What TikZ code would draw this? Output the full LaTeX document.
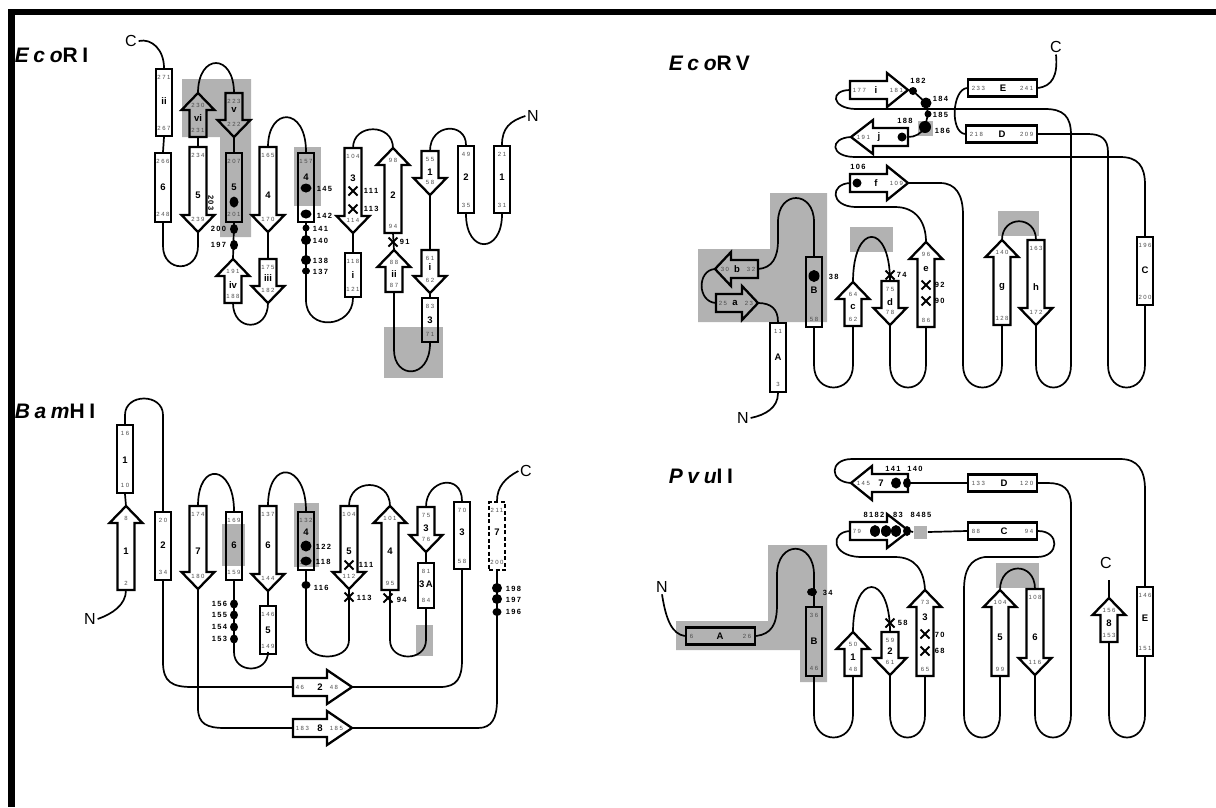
\documentclass[tikz,border=0pt]{standalone}
\usepackage{fontspec}
\setmainfont{Liberation Sans}
\newfontfamily\numfont[LetterSpace=25]{Liberation Sans}
\newfontfamily\labfont[LetterSpace=18]{Liberation Sans}
\newfontfamily\ttlfont[LetterSpace=22]{Liberation Sans}
\usetikzlibrary{shapes.geometric}

% vertical helix: [opt] name, x, y top, y bottom, top no., letter, letter y, bottom no.
\newcommand{\vhelix}[9][]{%
  \node[helix,#1,minimum height={#5-#4}] (#2) at (#3,{(#4+#5)/2}) {};
  \node[snum] (#2-1) at (#3,#4+8) {#6};
  \node[slab] (#2-2) at (#3,#8) {#7};
  \node[snum] (#2-3) at (#3,#5-8) {#9};}
% horizontal helix: name, x left, x right, y, left no., letter, letter x, right no.
\newcommand{\hhelix}[8]{%
  \node[helix,minimum width={#3-#2},minimum height=17] (#1) at ({(#2+#3)/2},#4) {};
  \node[snum,anchor=west] (#1-1) at (#2+3,#4) {#5};
  \node[slab] (#1-2) at (#7,#4) {#6};
  \node[snum,anchor=east] (#1-3) at (#3-3,#4) {#8};}
% strands: name, x, y tip / y top, y tail / y tip, top no., letter, letter y, bottom no.
\newcommand{\upstrand}[8]{%
  \draw[strand] (#2-8.5,#4) -- (#2-8.5,#3+17) -- (#2-16.5,#3+17) -- (#2,#3)
    -- (#2+16.5,#3+17) -- (#2+8.5,#3+17) -- (#2+8.5,#4) -- cycle;
  \coordinate (#1-t) at (#2,#3);
  \coordinate (#1-b) at (#2,#4);
  \node[snum] (#1-1) at (#2,#3+12) {#5};
  \node[slab] (#1-2) at (#2,#7) {#6};
  \node[snum] (#1-3) at (#2,#4-7) {#8};}
\newcommand{\downstrand}[8]{%
  \draw[strand] (#2-8.5,#3) -- (#2-8.5,#4-17) -- (#2-16.5,#4-17) -- (#2,#4)
    -- (#2+16.5,#4-17) -- (#2+8.5,#4-17) -- (#2+8.5,#3) -- cycle;
  \coordinate (#1-t) at (#2,#3);
  \coordinate (#1-b) at (#2,#4);
  \node[snum] (#1-1) at (#2,#3+8) {#5};
  \node[slab] (#1-2) at (#2,#7) {#6};
  \node[snum] (#1-3) at (#2,#4-13) {#8};}
% name, x left, x tip, y, head length, left no., letter, letter x, right no.
\newcommand{\rightstrand}[9]{%
  \draw[strand] (#2,#4-9) -- (#3-#5,#4-9) -- (#3-#5,#4-17) -- (#3,#4)
    -- (#3-#5,#4+17) -- (#3-#5,#4+9) -- (#2,#4+9) -- cycle;
  \coordinate (#1-l) at (#2,#4);
  \coordinate (#1-r) at (#3,#4);
  \node[snum,anchor=west] (#1-1) at (#2+2,#4) {#6};
  \node[slab] (#1-2) at (#8,#4) {#7};
  \node[snum,anchor=west] (#1-3) at (#3-#5+2,#4) {#9};}
% name, x tip, x right, y, head length, tip no., letter, letter x, right no.
\newcommand{\leftstrand}[9]{%
  \draw[strand] (#3,#4-9) -- (#2+#5,#4-9) -- (#2+#5,#4-17) -- (#2,#4)
    -- (#2+#5,#4+17) -- (#2+#5,#4+9) -- (#3,#4+9) -- cycle;
  \coordinate (#1-l) at (#2,#4);
  \coordinate (#1-r) at (#3,#4);
  \node[snum,anchor=west] (#1-1) at (#2+5,#4) {#6};
  \node[slab] (#1-2) at (#8,#4) {#7};
  \node[snum,anchor=east] (#1-3) at (#3-2,#4) {#9};}
\newcommand{\xcross}[3]{%
  \draw[line width=1.8pt] (#2-4.5,#3-4.5) -- (#2+4.5,#3+4.5) (#2-4.5,#3+4.5) -- (#2+4.5,#3-4.5);
  \coordinate (#1) at (#2,#3);}

\begin{document}
\begin{tikzpicture}[x=1pt,y=-1pt,line width=1.7pt,
  helix/.style={draw,rectangle,line width=2.3pt,minimum width=16,inner sep=0pt},
  strand/.style={line width=2.3pt,line join=miter},
  graybox/.style={fill=black!30},
  dotm/.style 2 args={ellipse,fill=black,inner sep=0pt,minimum width=#1,minimum height=#2},
  snum/.style={font=\numfont\fontsize{6}{7}\selectfont,text=black!70,inner sep=0pt},
  slab/.style={font=\bfseries\fontsize{9.5}{10}\selectfont,inner sep=0pt},
  rlab/.style={font=\labfont\bfseries\fontsize{7.5}{8}\selectfont,inner sep=0pt},
  clab/.style={font=\fontsize{16}{18}\selectfont,inner sep=1pt},
  ttl/.style={font=\ttlfont\bfseries\fontsize{21}{24}\selectfont,inner sep=0pt}]
  \useasboundingbox (0,0) rectangle (1216,807);
  \draw[line width=6.5pt] (8,12) -- (1216,12);
  \draw[line width=6.5pt] (11.5,9) -- (11.5,807);

  % shaded regions
  \fill[graybox] (182,79) -- (251,79) -- (251,237) -- (220,237) -- (220,137) -- (182,137) -- cycle;
  \fill[graybox] (294,147) rectangle (321,206);
  \fill[graybox] (384,327) rectangle (443,378);
  \fill[graybox] (222,524) rectangle (245,566);
  \fill[graybox] (294,503) rectangle (319,567);
  \fill[graybox] (416,625) rectangle (433,656);
  \fill[graybox] (698,249) -- (770,249) -- (770,193) -- (827,193) -- (827,322) -- (698,322) -- cycle;
  \fill[graybox] (850,227) rectangle (893,252);
  \fill[graybox] (998,211) rectangle (1039,236);
  \fill[graybox] (918,121) rectangle (933,136);
  \fill[graybox] (768,545) -- (827,545) -- (827,682) -- (800,682) -- (800,650) -- (676,650)
    -- (676,621) -- (768,621) -- cycle;
  \fill[graybox] (996,563) rectangle (1039,588);

  % EcoRI
  \node[ttl,anchor=base west] (e1ttl) at (14,62) {\itshape Eco\upshape RI};
  \vhelix{e1hii}{164}{69}{136}{271}{ii}{101}{267}
  \vhelix{e1h6}{163}{153}{222}{266}{6}{187}{248}
  \vhelix{e1h5}{234}{153}{222}{207}{5}{187}{201}
  \vhelix{e1h4}{306}{153}{222}{157}{4}{177}{}
  \vhelix{e1hi}{353}{253}{297}{118}{i}{275}{121}
  \vhelix{e1h3}{430}{298}{342}{83}{3}{320}{71}
  \vhelix{e1h2}{466}{146}{213}{49}{2}{177}{35}
  \vhelix{e1h1}{502}{146}{213}{21}{1}{177}{31}
  \upstrand{e1vi}{198}{93}{137}{230}{vi}{118}{231}
  \downstrand{e1v}{234}{93}{137}{223}{v}{110}{222}
  \downstrand{e1s5}{198}{147}{232}{234}{5}{195}{239}
  \downstrand{e1s4}{268}{147}{232}{165}{4}{195}{170}
  \upstrand{e1iv}{233}{259}{303}{191}{iv}{285}{188}
  \downstrand{e1iii}{268}{259}{303}{175}{iii}{278}{182}
  \downstrand{e1s3}{353}{148}{233}{104}{3}{178}{114}
  \upstrand{e1s2}{393}{148}{233}{98}{2}{195}{94}
  \upstrand{e1sii}{394}{250}{292}{88}{ii}{274}{87}
  \downstrand{e1si}{430}{250}{293}{61}{i}{267}{62}
  \downstrand{e1s1}{430}{151}{195}{55}{1}{172}{58}
  \node[clab] (e1C) at (131,41) {C};
  \node[clab] (e1N) at (533,116) {N};
  \draw (e1C.east) .. controls (152,38) and (164,50) .. (e1hii.north);
  \draw (e1hii.south) -- (e1h6.north);
  \draw (e1h6.south) -- (163,246) .. controls +(0,27) and +(0,27) .. (198,246) -- (e1s5-b);
  \draw (e1s5-t) -- (e1vi-b);
  \draw (e1vi-t) .. controls +(0,-40) and +(0,-40) .. (e1v-t);
  \draw (e1v-b) -- (e1h5.north);
  \draw (e1h5.south) -- (e1iv-t);
  \draw (e1iv-b) .. controls +(0,29) and +(0,29) .. (e1iii-b);
  \draw (e1iii-t) -- (e1s4-b);
  \draw (e1s4-t) .. controls +(0,-40) and +(0,-46) .. (e1h4.north);
  \draw (e1h4.south) -- (306,300) .. controls +(0,32) and +(0,30) .. (e1hi.south);
  \draw (e1hi.north) -- (e1s3-b);
  \draw (e1s3-t) .. controls +(0,-25) and +(0,-25) .. (e1s2-t);
  \draw (e1s2-b) -- (e1sii-t);
  \draw (e1sii-b) -- (394,350) .. controls +(0,29) and +(0,37) .. (e1h3.south);
  \draw (e1h3.north) -- (e1si-b);
  \draw (e1si-t) -- (e1s1-b);
  \draw (e1s1-t) .. controls +(0,-28) and +(0,-23) .. (e1h2.north);
  \draw (e1h2.south) .. controls +(0,40) and +(0,40) .. (e1h1.south);
  \draw (e1h1.north) .. controls (502,128) and (510,121) .. (e1N.west);
  \node[dotm={9}{11}] (e1d5) at (234,202) {};
  \node[dotm={8}{10}] (e1d200) at (234,229) {};
  \node[dotm={8}{10}] (e1d197) at (234,245) {};
  \node[dotm={11}{9}] (e1d145) at (306,188) {};
  \node[dotm={11}{9}] (e1d142) at (306,214) {};
  \node[dotm={7}{7}] (e1d141) at (306,228) {};
  \node[dotm={10}{10}] (e1d140) at (306,240) {};
  \node[dotm={10}{10}] (e1d138) at (306,260) {};
  \node[dotm={8}{7}] (e1d137) at (306,271) {};
  \xcross{e1x111}{353}{191}
  \xcross{e1x113}{353}{209}
  \xcross{e1x91}{393}{242}
  \node[rlab,rotate=-90] (e1l203) at (211,203) {203};
  \node[rlab,anchor=east] (e1l200) at (227,229) {200};
  \node[rlab,anchor=east] (e1l197) at (227,245) {197};
  \node[rlab,anchor=west] (e1l145) at (316,189) {145};
  \node[rlab,anchor=west] (e1l142) at (316,216) {142};
  \node[rlab,anchor=west] (e1l141) at (312,229) {141};
  \node[rlab,anchor=west] (e1l140) at (312,241) {140};
  \node[rlab,anchor=west] (e1l138) at (312,261) {138};
  \node[rlab,anchor=west] (e1l137) at (312,272) {137};
  \node[rlab,anchor=west] (e1l111) at (363,191) {111};
  \node[rlab,anchor=west] (e1l113) at (363,209) {113};
  \node[rlab,anchor=west] (e1l91) at (399,242) {91};

  % BamHI
  \node[ttl,anchor=base west] (bhttl) at (14,418) {\itshape Bam\upshape HI};
  \vhelix{bh1}{125}{425}{493}{16}{1}{460}{10}
  \vhelix{bh2}{163}{512}{580}{20}{2}{545}{34}
  \vhelix{bh6}{234}{512}{580}{169}{6}{545}{159}
  \vhelix{bh5}{268}{606}{654}{146}{5}{630}{149}
  \vhelix{bh4}{306}{512}{570}{132}{4}{532}{117}
  \vhelix{bh3a}{426}{563}{608}{81}{3\,A}{584}{84}
  \vhelix{bh3}{462}{502}{569}{70}{3}{532}{58}
  \vhelix[dash pattern=on 4pt off 2.5pt]{bh7}{497}{502}{570}{211}{7}{532}{200}
  \upstrand{bhs1}{126}{506}{590}{8}{1}{551}{2}
  \downstrand{bhs7}{198}{506}{589}{174}{7}{551}{180}
  \downstrand{bhs6}{268}{506}{591}{137}{6}{545}{144}
  \downstrand{bhs5}{349}{506}{589}{104}{5}{551}{112}
  \upstrand{bhs4}{390}{506}{590}{101}{4}{551}{95}
  \downstrand{bhs3}{426}{507}{552}{75}{3}{528}{76}
  \rightstrand{bhs2}{293}{352}{687}{25}{46}{2}{320}{48}
  \rightstrand{bhs8}{293}{352}{728}{25}{183}{8}{320}{185}
  \node[clab] (bhN) at (90,619) {N};
  \node[clab] (bhC) at (526,471) {C};
  \node[dotm={8}{9}] (bhd156) at (234,604) {};
  \node[dotm={8}{9}] (bhd155) at (234,615) {};
  \node[dotm={8}{9}] (bhd154) at (234,627) {};
  \node[dotm={8}{9}] (bhd153) at (234,639) {};
  \node[dotm={11}{11}] (bhd122) at (306,546) {};
  \node[dotm={11}{9}] (bhd118) at (306,561) {};
  \node[dotm={9}{8}] (bhd116) at (306,585) {};
  \node[dotm={10}{10}] (bhd198) at (497,588) {};
  \node[dotm={10}{10}] (bhd197) at (497,599) {};
  \node[dotm={9}{8}] (bhd196) at (497,612) {};
  \draw (bhN.east) .. controls (112,614) and (126,605) .. (bhs1-b);
  \draw (bhs1-t) -- (bh1.south);
  \draw (bh1.north) -- (125,415) .. controls +(0,-22) and +(0,-22) .. (163,415) -- (bh2.north);
  \draw (bh2.south) -- (163,662) .. controls (163,682) and (172,687) .. (192,687) -- (bhs2-l);
  \draw (bhs2-r) -- (440,687) .. controls (457,687) and (462,678) .. (462,660) -- (bh3.south);
  \draw (bhs7-b) -- (198,708) .. controls (198,724) and (207,728) .. (225,728) -- (bhs8-l);
  \draw (bhs8-r) -- (478,728) .. controls (492,728) and (497,718) .. (497,700) -- (bh7.south);
  \draw (bhs7-t) .. controls +(0,-46) and +(0,-46) .. (bh6.north);
  \draw (bh6.south) -- (234,652) .. controls +(0,22) and +(0,22) .. (268,652) -- (bh5.south);
  \draw (bh5.north) -- (bhs6-b);
  \draw (bhs6-t) .. controls +(0,-48) and +(0,-48) .. (bh4.north);
  \draw (bh4.south) -- (306,640) .. controls +(0,22) and +(0,22) .. (349,640) -- (bhs5-b);
  \draw (bhs5-t) .. controls +(0,-28) and +(0,-28) .. (bhs4-t);
  \draw (bhs4-b) -- (390,640) .. controls +(0,22) and +(0,22) .. (426,640) -- (bh3a.south);
  \draw (bh3a.north) -- (bhs3-b);
  \draw (bhs3-t) .. controls +(0,-28) and +(0,-28) .. (bh3.north);
  \draw (bh7.north) .. controls (497,487) and (505,478) .. (bhC.west);
  \xcross{bhx111}{349}{565}
  \xcross{bhx113}{349}{597}
  \xcross{bhx94}{388}{598}
  \node[rlab,anchor=east] (bhl156) at (228,604) {156};
  \node[rlab,anchor=east] (bhl155) at (228,615) {155};
  \node[rlab,anchor=east] (bhl154) at (228,627) {154};
  \node[rlab,anchor=east] (bhl153) at (228,639) {153};
  \node[rlab,anchor=west] (bhl122) at (315,547) {122};
  \node[rlab,anchor=west] (bhl118) at (315,562) {118};
  \node[rlab,anchor=west] (bhl116) at (313,588) {116};
  \node[rlab,anchor=west] (bhl111) at (358,565) {111};
  \node[rlab,anchor=west] (bhl113) at (356,598) {113};
  \node[rlab,anchor=west] (bhl94) at (396,600) {94};
  \node[rlab,anchor=west] (bhl198) at (505,589) {198};
  \node[rlab,anchor=west] (bhl197) at (505,600) {197};
  \node[rlab,anchor=west] (bhl196) at (505,612) {196};

  % EcoRV
  \node[ttl,anchor=base west] (rvttl) at (668,70) {\itshape Eco\upshape RV};
  \vhelix{rvA}{778}{323}{392}{11}{A}{357}{3}
  \vhelix{rvB}{814}{257}{327}{}{B}{290}{58}
  \vhelix{rvC}{1145}{237}{305}{196}{C}{270}{200}
  \hhelix{rvD}{966}{1037}{134}{218}{D}{1002}{209}
  \hhelix{rvE}{968}{1037}{88}{233}{E}{1003}{241}
  \rightstrand{rva}{716}{758}{303}{16}{25}{a}{735}{23}
  \leftstrand{rvb}{715}{758}{269}{16}{30}{b}{737}{32}
  \upstrand{rvc}{853}{282}{326}{64}{c}{307}{62}
  \downstrand{rvd}{890}{281}{325}{75}{d}{302}{78}
  \upstrand{rve}{926}{242}{327}{96}{e}{269}{86}
  \rightstrand{rvf}{850}{908}{183}{21}{}{f}{876}{109}
  \upstrand{rvg}{1002}{240}{325}{140}{g}{287}{128}
  \downstrand{rvh}{1036}{240}{325}{163}{h}{287}{172}
  \rightstrand{rvi}{850}{908}{90}{21}{177}{i}{876}{181}
  \leftstrand{rvj}{851}{908}{137}{22}{191}{j}{879}{}
  \node[clab] (rvN) at (743,418) {N};
  \node[clab] (rvCt) at (1056,47) {C};
  \node[dotm={8}{8}] (rvd182) at (913,91) {};
  \node[dotm={11}{11}] (rvd184) at (926,103) {};
  \node[dotm={7}{7}] (rvd185) at (928,114) {};
  \node[dotm={12}{12}] (rvd186) at (925,127) {};
  \node[dotm={9}{9}] (rvd188) at (902,137) {};
  \node[dotm={9}{9}] (rvd106) at (857,183) {};
  \node[dotm={11}{12}] (rvd38) at (814,276) {};
  \draw (rvN.east) .. controls (765,415) and (778,408) .. (rvA.south);
  \draw (rvA.north) .. controls (778,309) and (771,303) .. (rva-r);
  \draw (rva-l) .. controls (697,302) and (697,270) .. (rvb-l);
  \draw (rvb-r) .. controls (772,268) and (778,258) .. (778,240) -- (778,222)
    .. controls +(0,-32) and +(0,-32) .. (814,222) -- (rvB.north);
  \draw (rvB.south) -- (814,365) .. controls +(0,30) and +(0,30) .. (853,365) -- (rvc-b);
  \draw (rvc-t) .. controls +(0,-60) and +(0,-59) .. (rvd-t);
  \draw (rvd-b) -- (890,365) .. controls +(0,30) and +(0,30) .. (926,365) -- (rve-b);
  \draw (rve-t) .. controls (926,222) and (916,207) .. (895,207) -- (855,207)
    .. controls (830,206) and (830,184) .. (rvf-l);
  \draw (rvf-r) -- (940,183) .. controls (956,183) and (963,195) .. (963,215) -- (963,365)
    .. controls +(0,30) and +(0,30) .. (1002,365) -- (rvg-b);
  \draw (rvg-t) .. controls +(0,-25) and +(0,-25) .. (rvh-t);
  \draw (rvh-b) -- (1036,365) .. controls +(0,30) and +(0,30) .. (1071,365) -- (1071,135)
    .. controls (1071,116) and (1063,109) .. (1045,109) -- (855,109)
    .. controls (831,108) and (830,90) .. (rvi-l);
  \draw (rvi-r) -- (rvd182.center) -- (rvd184.center) -- (rvd185.center) -- (rvd186.center)
    .. controls (921,134) and (915,137) .. (rvj-r);
  \draw (rvj-l) .. controls (829,138) and (830,157) .. (855,157) -- (1120,157)
    .. controls (1138,157) and (1145,166) .. (1145,185) -- (rvC.north);
  \draw (rvC.south) -- (1145,365) .. controls +(0,30) and +(0,30) .. (1108,365) -- (1108,152)
    .. controls (1108,139) and (1101,134) .. (1088,134) -- (rvD.east);
  \draw (rvD.west) .. controls (950,132) and (952,90) .. (rvE.west);
  \draw (rvE.east) .. controls (1052,86) and (1058,76) .. (rvCt.south);
  \xcross{rvx74}{890}{275}
  \xcross{rvx92}{926}{285}
  \xcross{rvx90}{926}{301}
  \node[rlab] (rvl182) at (918,81) {182};
  \node[rlab,anchor=west] (rvl184) at (932,99) {184};
  \node[rlab,anchor=west] (rvl185) at (932,115) {185};
  \node[rlab,anchor=west] (rvl186) at (934,131) {186};
  \node[rlab] (rvl188) at (905,121) {188};
  \node[rlab] (rvl106) at (858,167) {106};
  \node[rlab,anchor=west] (rvl38) at (828,277) {38};
  \node[rlab,anchor=west] (rvl74) at (896,275) {74};
  \node[rlab,anchor=west] (rvl92) at (934,285) {92};
  \node[rlab,anchor=west] (rvl90) at (934,301) {90};

  % PvuII
  \node[ttl,anchor=base west] (pvttl) at (668,483) {\itshape Pvu\upshape II};
  \hhelix{pvA}{686}{755}{636}{6}{A}{720}{26}
  \vhelix{pvB}{814}{607}{676}{36}{B}{641}{46}
  \hhelix{pvC}{968}{1037}{531}{88}{C}{1004}{94}
  \hhelix{pvD}{968}{1037}{483}{133}{D}{1004}{120}
  \vhelix{pvE}{1145}{587}{656}{146}{E}{618}{151}
  \upstrand{pv1}{853}{632}{676}{50}{1}{657}{48}
  \downstrand{pv2}{890}{632}{675}{59}{2}{651}{61}
  \upstrand{pv3}{925}{590}{676}{73}{3}{617}{65}
  \rightstrand{pv4}{850}{909}{531}{22}{79}{}{880}{}
  \upstrand{pv5}{1000}{590}{676}{104}{5}{637}{99}
  \downstrand{pv6}{1035}{589}{675}{108}{6}{637}{116}
  \leftstrand{pv7}{851}{908}{483}{21}{145}{7}{881}{}
  \upstrand{pv8}{1109}{598}{642}{156}{8}{623}{153}
  \node[clab] (pvN) at (662,587) {N};
  \node[clab] (pvCt) at (1106,563) {C};
  \coordinate (pvCend) at (1109,580);
  \node[graybox,minimum size=13,inner sep=0pt] (pvsq) at (920.5,532) {};
  \node[dotm={10}{8}] (pvd34) at (812,592) {};
  \node[dotm={10}{12}] (pvd81) at (875,531) {};
  \node[dotm={10}{12}] (pvd82) at (886,531) {};
  \node[dotm={10}{12}] (pvd83) at (896,531) {};
  \node[dotm={8}{10}] (pvd84) at (907,531) {};
  \node[dotm={10}{11}] (pvd141) at (896,483) {};
  \node[dotm={8}{10}] (pvd140) at (907,483) {};
  \draw (pvN.south) .. controls (666,620) and (672,634) .. (pvA.west);
  \draw (pvA.east) .. controls (771,634) and (777,625) .. (777,605) -- (777,575)
    .. controls +(0,-35) and +(0,-35) .. (814,575) -- (pvB.north);
  \draw (pvB.south) -- (814,715) .. controls +(0,30) and +(0,30) .. (853,715) -- (pv1-b);
  \draw (pv1-t) .. controls +(0,-60) and +(0,-60) .. (pv2-t);
  \draw (pv2-b) -- (890,715) .. controls +(0,30) and +(0,30) .. (925,715) -- (pv3-b);
  \draw (pv3-t) .. controls (924,570) and (915,557) .. (895,557) -- (860,557)
    .. controls (831,556) and (830,532) .. (pv4-l);
  \draw (pv4-r) -- (pvsq.west);
  \draw (pvsq.east) -- (pvC.west);
  \draw (pvC.east) .. controls (1060,531) and (1060,557) .. (1037,557) -- (985,557)
    .. controls (970,559) and (964,570) .. (964,590) -- (964,715)
    .. controls +(0,30) and +(0,30) .. (1000,715) -- (pv5-b);
  \draw (pv5-t) .. controls +(0,-28) and +(0,-28) .. (pv6-t);
  \draw (pv6-b) -- (1035,715) .. controls +(0,30) and +(0,30) .. (1071,715) -- (1071,505)
    .. controls (1071,489) and (1063,483) .. (1048,483) -- (pvD.east);
  \draw (pvD.west) -- (pv7-r);
  \draw (pv7-l) .. controls (829,482) and (829,459) .. (852,459) -- (1120,459)
    .. controls (1138,459) and (1145,470) .. (1145,490) -- (pvE.north);
  \draw (pvE.south) -- (1145,715) .. controls +(0,30) and +(0,30) .. (1109,715) -- (pv8-b);
  \draw (pv8-t) -- (pvCend);
  \xcross{pvx58}{890}{623}
  \xcross{pvx70}{925}{634}
  \xcross{pvx68}{925}{651}
  \node[rlab,anchor=west] (pvl34) at (822,593) {34};
  \node[rlab] (pvl141) at (893,469) {141};
  \node[rlab] (pvl140) at (915,469) {140};
  \node[rlab] (pvl8182) at (874,515) {8182};
  \node[rlab] (pvl83) at (898,515) {83};
  \node[rlab] (pvl8485) at (921,515) {8485};
  \node[rlab,anchor=west] (pvl58) at (897,623) {58};
  \node[rlab,anchor=west] (pvl70) at (934,635) {70};
  \node[rlab,anchor=west] (pvl68) at (934,651) {68};
\end{tikzpicture}
\end{document}
